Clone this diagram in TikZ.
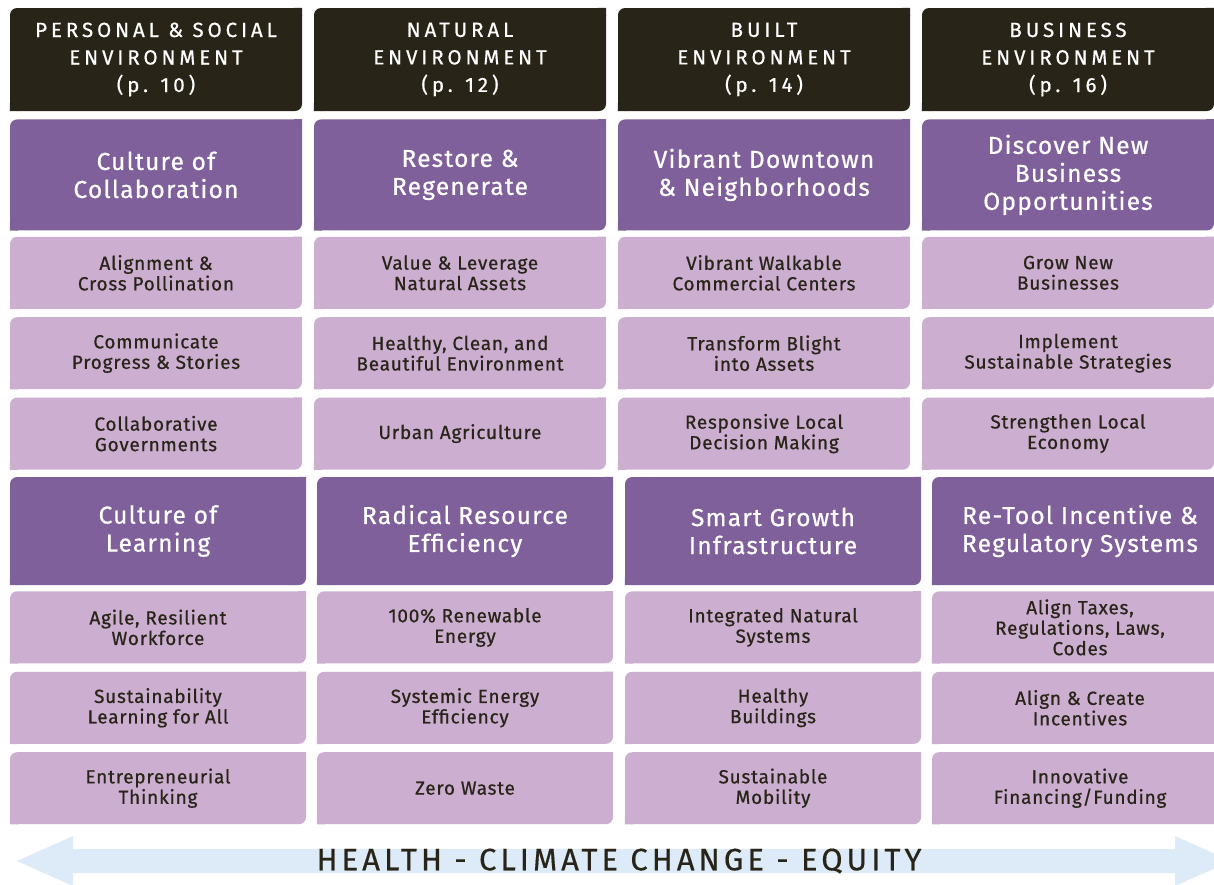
\documentclass[tikz,border=0pt]{standalone}
\usepackage{fontspec}
\setmainfont{Fira Sans}[FakeBold=0.6]
\newfontfamily\trackedfont[LetterSpace=19, FakeBold=0.6]{Fira Sans}
\newfontfamily\goalfont[LetterSpace=5, FakeBold=0.6]{Fira Sans}
\newfontfamily\actionfont[LetterSpace=4, FakeBold=0.6]{Fira Sans}
\newfontfamily\bannerfont[LetterSpace=13, FakeBold=0.4]{Fira Sans}
\usetikzlibrary{positioning}

\definecolor{hdrdark}{HTML}{282418}
\definecolor{purp}{HTML}{7F609A}
\definecolor{lilac}{HTML}{CBAED0}
\definecolor{skyband}{HTML}{DCEBF7}

\begin{document}
\begin{tikzpicture}[
    x=1pt, y=-1pt,
    node distance=8pt,
    leaf/.style={rectangle, fill=#1, rounded corners=7pt, inner sep=2pt, align=center,
        append after command={\pgfextra{\let\leafnode\tikzlastnode
            \fill[#1, sharp corners] (\leafnode.north east) rectangle ++(-8pt,-8pt)
                (\leafnode.south west) rectangle ++(8pt,8pt);}}},
    header/.style={leaf=hdrdark, text=white, minimum width=292pt, minimum height=103pt,
        font=\trackedfont\fontsize{20.5}{27.5}\selectfont},
    goal/.style={leaf=purp, text=white, minimum width=292pt, minimum height=111pt,
        font=\goalfont\fontsize{24.5}{28}\selectfont},
    action/.style={leaf=lilac, text=hdrdark, minimum width=292pt, minimum height=72pt,
        font=\actionfont\fontsize{19}{20.5}\selectfont},
    wide/.style={minimum width=296pt},
]
    \useasboundingbox (0,0) rectangle (1214,884);
    \clip (0,0) rectangle (1214,884);

    % Environment headers
    \node[header] (personal) at (156,59.5) {PERSONAL \& SOCIAL\\ENVIRONMENT\\(p. 10)};
    \node[header] (natural) at (460,59.5) {NATURAL\\ENVIRONMENT\\(p. 12)};
    \node[header] (built) at (764,59.5) {BUILT\\ENVIRONMENT\\(p. 14)};
    \node[header] (business) at (1068,59.5) {BUSINESS\\ENVIRONMENT\\(p. 16)};

    % Upper goals
    \node[goal, below=of personal] (collab) {Culture of\\Collaboration};
    \node[goal, below=of natural] (restore) {Restore \&\\Regenerate};
    \node[goal, below=of built] (downtown) {Vibrant Downtown\\\& Neighborhoods};
    \node[goal, below=of business] (discover) {Discover New\\Business\\Opportunities};

    % Upper actions
    \node[action, below=6pt of collab] (alignment) {Alignment \&\\Cross Pollination};
    \node[action, below=of alignment] (progress) {Communicate\\Progress \& Stories};
    \node[action, below=of progress] (governments) {Collaborative\\Governments};

    \node[action, below=6pt of restore] (assets) {Value \& Leverage\\Natural Assets};
    \node[action, below=of assets] (healthy) {Healthy, Clean, and\\Beautiful Environment};
    \node[action, below=of healthy] (agriculture) {Urban Agriculture};

    \node[action, below=6pt of downtown] (walkable) {Vibrant Walkable\\Commercial Centers};
    \node[action, below=of walkable] (blight) {Transform Blight\\into Assets};
    \node[action, below=of blight] (decision) {Responsive Local\\Decision Making};

    \node[action, below=6pt of discover] (grownew) {Grow New\\Businesses};
    \node[action, below=of grownew] (strategies) {Implement\\Sustainable Strategies};
    \node[action, below=of strategies] (economy) {Strengthen Local\\Economy};

    % Lower goals
    \node[goal, wide, minimum height=108pt] (learning) at (158,531) {Culture of\\Learning};
    \node[goal, wide, minimum height=108pt] (resource) at (465,531) {Radical Resource\\Efficiency};
    \node[goal, wide, minimum height=108pt] (smartgrowth) at (773,531) {Smart Growth\\Infrastructure};
    \node[goal, wide, minimum height=108pt] (retool) at (1080,531) {Re-Tool Incentive \&\\Regulatory Systems};

    % Lower actions
    \node[action, wide, below=6pt of learning] (workforce) {Agile, Resilient\\Workforce};
    \node[action, wide, below=of workforce] (learnall) {Sustainability\\Learning for All};
    \node[action, wide, below=of learnall] (thinking) {Entrepreneurial\\Thinking};

    \node[action, wide, below=6pt of resource] (renewable) {100\% Renewable\\Energy};
    \node[action, wide, below=of renewable] (energy) {Systemic Energy\\Efficiency};
    \node[action, wide, below=of energy] (zerowaste) {Zero Waste};

    \node[action, wide, below=6pt of smartgrowth] (natsystems) {Integrated Natural\\Systems};
    \node[action, wide, below=of natsystems] (buildings) {Healthy\\Buildings};
    \node[action, wide, below=of buildings] (mobility) {Sustainable\\Mobility};

    \node[action, wide, below=6pt of retool] (taxes) {Align Taxes,\\Regulations, Laws,\\Codes};
    \node[action, wide, below=of taxes] (incentives) {Align \& Create\\Incentives};
    \node[action, wide, below=of incentives] (financing) {Innovative\\Financing/Funding};

    % Cross-cutting band
    \fill[skyband] (17,861) -- (73,836) -- (73,849) -- (1175,849) -- (1175,836) -- (1231,861)
        -- (1175,886) -- (1175,873) -- (73,873) -- (73,886) -- cycle;
    \node[font=\bannerfont\fontsize{31}{31}\selectfont, text=hdrdark] (themes) at (619,861)
        {HEALTH - CLIMATE CHANGE - EQUITY};
\end{tikzpicture}
\end{document}
